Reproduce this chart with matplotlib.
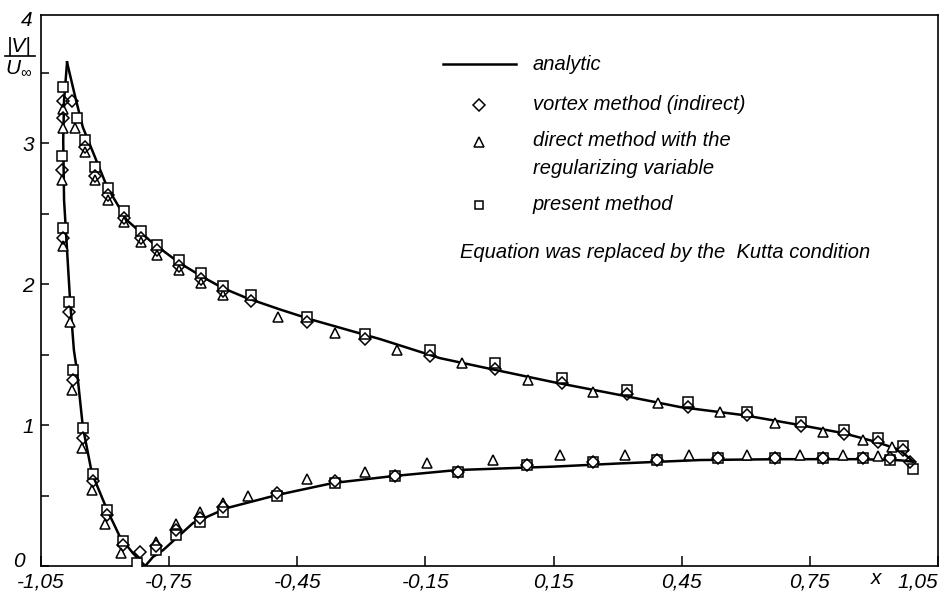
import matplotlib
matplotlib.use("Agg")
import matplotlib.pyplot as plt
from matplotlib.lines import Line2D
import numpy as np

plt.rcParams['font.family'] = ['Liberation Sans', 'DejaVu Sans']
plt.rcParams['font.style'] = 'italic'
plt.rcParams['mathtext.fontset'] = 'custom'
plt.rcParams['mathtext.it'] = 'Liberation Sans:italic'
plt.rcParams['mathtext.rm'] = 'Liberation Sans:italic'

# analytic |V|/U_inf, both branches start at the suction peak
upper_x = [-0.989, -0.970, -0.952, -0.895, -0.849, -0.788, -0.725, -0.671, -0.624, -0.568,
           -0.490, -0.413, -0.256, -0.116, -0.006, 0.149, 0.306, 0.446, 0.594, 0.727,
           0.828, 0.907, 0.961, 0.992]
upper_y = [3.574, 3.330, 3.113, 2.688, 2.454, 2.291, 2.149, 2.050, 1.972, 1.901,
           1.820, 1.745, 1.610, 1.475, 1.404, 1.305, 1.213, 1.128, 1.071, 1.000,
           0.943, 0.879, 0.823, 0.740]
lower_x = [-0.989, -0.996, -0.998, -0.996, -0.989, -0.982, -0.973, -0.966, -0.952, -0.931,
           -0.895, -0.865, -0.835, -0.806, -0.788, -0.764, -0.694, -0.615, -0.497, -0.366,
           -0.226, -0.076, 0.149, 0.306, 0.493, 0.680, 0.868, 0.961, 0.992]
lower_y = [3.574, 3.305, 3.021, 2.596, 2.241, 1.887, 1.532, 1.390, 0.986, 0.660,
           0.397, 0.206, 0.092, 0.000, 0.064, 0.113, 0.305, 0.411, 0.504, 0.589,
           0.638, 0.681, 0.705, 0.728, 0.752, 0.758, 0.758, 0.750, 0.740]

# present method (squares)
sq_x = [-0.998, -1.000, -0.998, -0.984, -0.975, -0.952, -0.928, -0.895, -0.858, -0.825,
        -0.781, -0.734, -0.678, -0.624, -0.497, -0.362, -0.221, -0.074, 0.088, 0.242,
        0.392, 0.535, 0.669, 0.781, 0.875, 0.938, 0.992,
        -0.966, -0.947, -0.924, -0.893, -0.856, -0.816, -0.778, -0.727, -0.675, -0.624,
        -0.558, -0.427, -0.291, -0.139, 0.013, 0.170, 0.322, 0.465, 0.603, 0.729,
        0.830, 0.910, 0.968]
sq_y = [3.40, 2.91, 2.40, 1.87, 1.39, 0.98, 0.65, 0.40, 0.18, 0.02,
        0.11, 0.22, 0.31, 0.38, 0.50, 0.59, 0.64, 0.67, 0.715, 0.735,
        0.75, 0.765, 0.765, 0.765, 0.765, 0.75, 0.69,
        3.18, 3.02, 2.83, 2.68, 2.52, 2.38, 2.28, 2.17, 2.08, 1.99,
        1.92, 1.77, 1.645, 1.53, 1.44, 1.335, 1.25, 1.165, 1.09, 1.02,
        0.965, 0.91, 0.85]

# vortex method, indirect (diamonds)
dm_x = [-0.999, -0.999, -1.000, -0.998, -0.984, -0.975, -0.952, -0.928, -0.895, -0.858,
        -0.818, -0.781, -0.734, -0.678, -0.624, -0.497, -0.362, -0.221, -0.074, 0.088,
        0.242, 0.392, 0.535, 0.669, 0.781, 0.875, 0.938, 0.985,
        -0.977, -0.947, -0.924, -0.893, -0.856, -0.816, -0.778, -0.727, -0.675, -0.624,
        -0.558, -0.427, -0.291, -0.139, 0.013, 0.170, 0.322, 0.465, 0.603, 0.729,
        0.830, 0.910, 0.968]
dm_y = [3.30, 3.18, 2.81, 2.33, 1.80, 1.32, 0.91, 0.60, 0.36, 0.15,
        0.10, 0.14, 0.255, 0.34, 0.42, 0.52, 0.60, 0.64, 0.67, 0.715,
        0.735, 0.75, 0.765, 0.765, 0.765, 0.765, 0.765, 0.74,
        3.30, 2.97, 2.77, 2.63, 2.47, 2.33, 2.24, 2.13, 2.04, 1.95,
        1.88, 1.73, 1.61, 1.49, 1.40, 1.30, 1.22, 1.13, 1.07, 0.99,
        0.94, 0.88, 0.82]

# direct method with the regularizing variable (triangles)
tr_x = [-0.999, -0.999, -1.000, -0.998, -0.982, -0.977, -0.954, -0.931, -0.899, -0.862,
        -0.825, -0.781, -0.734, -0.678, -0.624, -0.565, -0.427, -0.291, -0.146, 0.008,
        0.165, 0.317, 0.467, 0.603, 0.727, 0.828, 0.910,
        -0.970, -0.947, -0.924, -0.893, -0.856, -0.816, -0.778, -0.727, -0.675, -0.624,
        -0.495, -0.362, -0.216, -0.064, 0.090, 0.242, 0.395, 0.540, 0.669, 0.781,
        0.875, 0.943]
tr_y = [3.24, 3.11, 2.74, 2.27, 1.73, 1.25, 0.84, 0.54, 0.30, 0.09,
        0.03, 0.17, 0.30, 0.38, 0.45, 0.50, 0.62, 0.67, 0.73, 0.75,
        0.79, 0.79, 0.79, 0.79, 0.79, 0.79, 0.78,
        3.11, 2.94, 2.74, 2.60, 2.44, 2.30, 2.21, 2.10, 2.01, 1.92,
        1.77, 1.65, 1.53, 1.44, 1.32, 1.235, 1.155, 1.09, 1.015, 0.95,
        0.895, 0.845]

x_ticks = [-1.05, -0.75, -0.45, -0.15, 0.15, 0.45, 0.75, 1.05]
x_tick_labels = ['-1,05', '-0,75', '-0,45', '-0,15', '0,15', '0,45', '0,75', '1,05']
y_ticks = [0, 0.5, 1, 1.5, 2, 2.5, 3, 3.5]
y_tick_labels = ['', '', '1', '', '2', '', '3', '']

fig = plt.figure(figsize=(9.52, 5.93), dpi=100)
ax = fig.add_axes([41 / 952, 27 / 593, 897 / 952, 551 / 593])

ax.plot(upper_x, upper_y, color='black', lw=1.8, zorder=2)
ax.plot(lower_x, lower_y, color='black', lw=1.8, zorder=2)

mk = dict(linestyle='none', color='black', mec='black', mew=1.1, zorder=3)
ax.plot(tr_x, tr_y, marker='^', ms=7.5, mfc='white', **mk)
ax.plot(sq_x, sq_y, marker='s', ms=7, mfc='white', **mk)
ax.plot(dm_x, dm_y, marker='D', ms=6, mfc='none', **mk)

ax.set_xlim(-1.05, 1.05)
ax.set_ylim(0, 3.91)
ax.set_xticks(x_ticks)
ax.set_xticklabels(x_tick_labels)
ax.set_yticks(y_ticks)
ax.set_yticklabels(y_tick_labels)
ax.tick_params(axis='x', direction='in', length=7, width=1.1, labelsize=15, pad=5)
ax.tick_params(axis='y', direction='in', length=6, width=1.1, labelsize=15, pad=5)
ax.get_xticklabels()[-1].set_horizontalalignment('right')
ax.get_xticklabels()[0].set_horizontalalignment('center')
for s in ax.spines.values():
    s.set_linewidth(1.2)

# end labels of the y axis sit a little apart from the ticks
ax.annotate('4', xy=(0, 3.87), xycoords=('axes fraction', 'data'), xytext=(-6, 0),
            textcoords='offset points', ha='right', va='center', fontsize=15)
ax.annotate('0', xy=(0, 0), xycoords=('axes fraction', 'data'), xytext=(-12, 3),
            textcoords='offset points', ha='right', va='center', fontsize=15)
ax.text(0.931, -0.022, 'x', transform=ax.transAxes, ha='center', va='center', fontsize=15)

# |V| / U_inf label in the top-left corner
fig.text(19 / 952, 1 - 47 / 593, '|V|', ha='center', va='center', fontsize=15)
fig.add_artist(Line2D([5 / 952, 35 / 952], [1 - 56 / 593, 1 - 56 / 593],
                      transform=fig.transFigure, color='black', lw=1.2))
fig.text(19 / 952, 1 - 68 / 593, r'$U_{\infty}$', ha='center', va='center', fontsize=15)

# legend drawn by hand
def fx(px):
    return px / 952

def fy(py):
    return 1 - py / 593

fig.add_artist(Line2D([fx(443), fx(516)], [fy(64), fy(64)], transform=fig.transFigure,
                      color='black', lw=1.8))
fig.add_artist(Line2D([fx(479)], [fy(105)], transform=fig.transFigure, marker='D', ms=6,
                      mfc='white', mec='black', mew=1.1, linestyle='none'))
fig.add_artist(Line2D([fx(479)], [fy(142)], transform=fig.transFigure, marker='^', ms=6.5,
                      mfc='white', mec='black', mew=1.1, linestyle='none'))
fig.add_artist(Line2D([fx(479)], [fy(205)], transform=fig.transFigure, marker='s', ms=6,
                      mfc='white', mec='black', mew=1.1, linestyle='none'))

legend_rows = [('analytic', 64), ('vortex method (indirect)', 105),
               ('direct method with the', 141), ('regularizing variable', 169),
               ('present method', 205)]
for label, py in legend_rows:
    fig.text(fx(533), fy(py), label, ha='left', va='center', fontsize=14.5)
fig.text(fx(460), fy(252), 'Equation was replaced by the  Kutta condition',
         ha='left', va='center', fontsize=14.5)

fig.savefig('out.png', dpi=100)
